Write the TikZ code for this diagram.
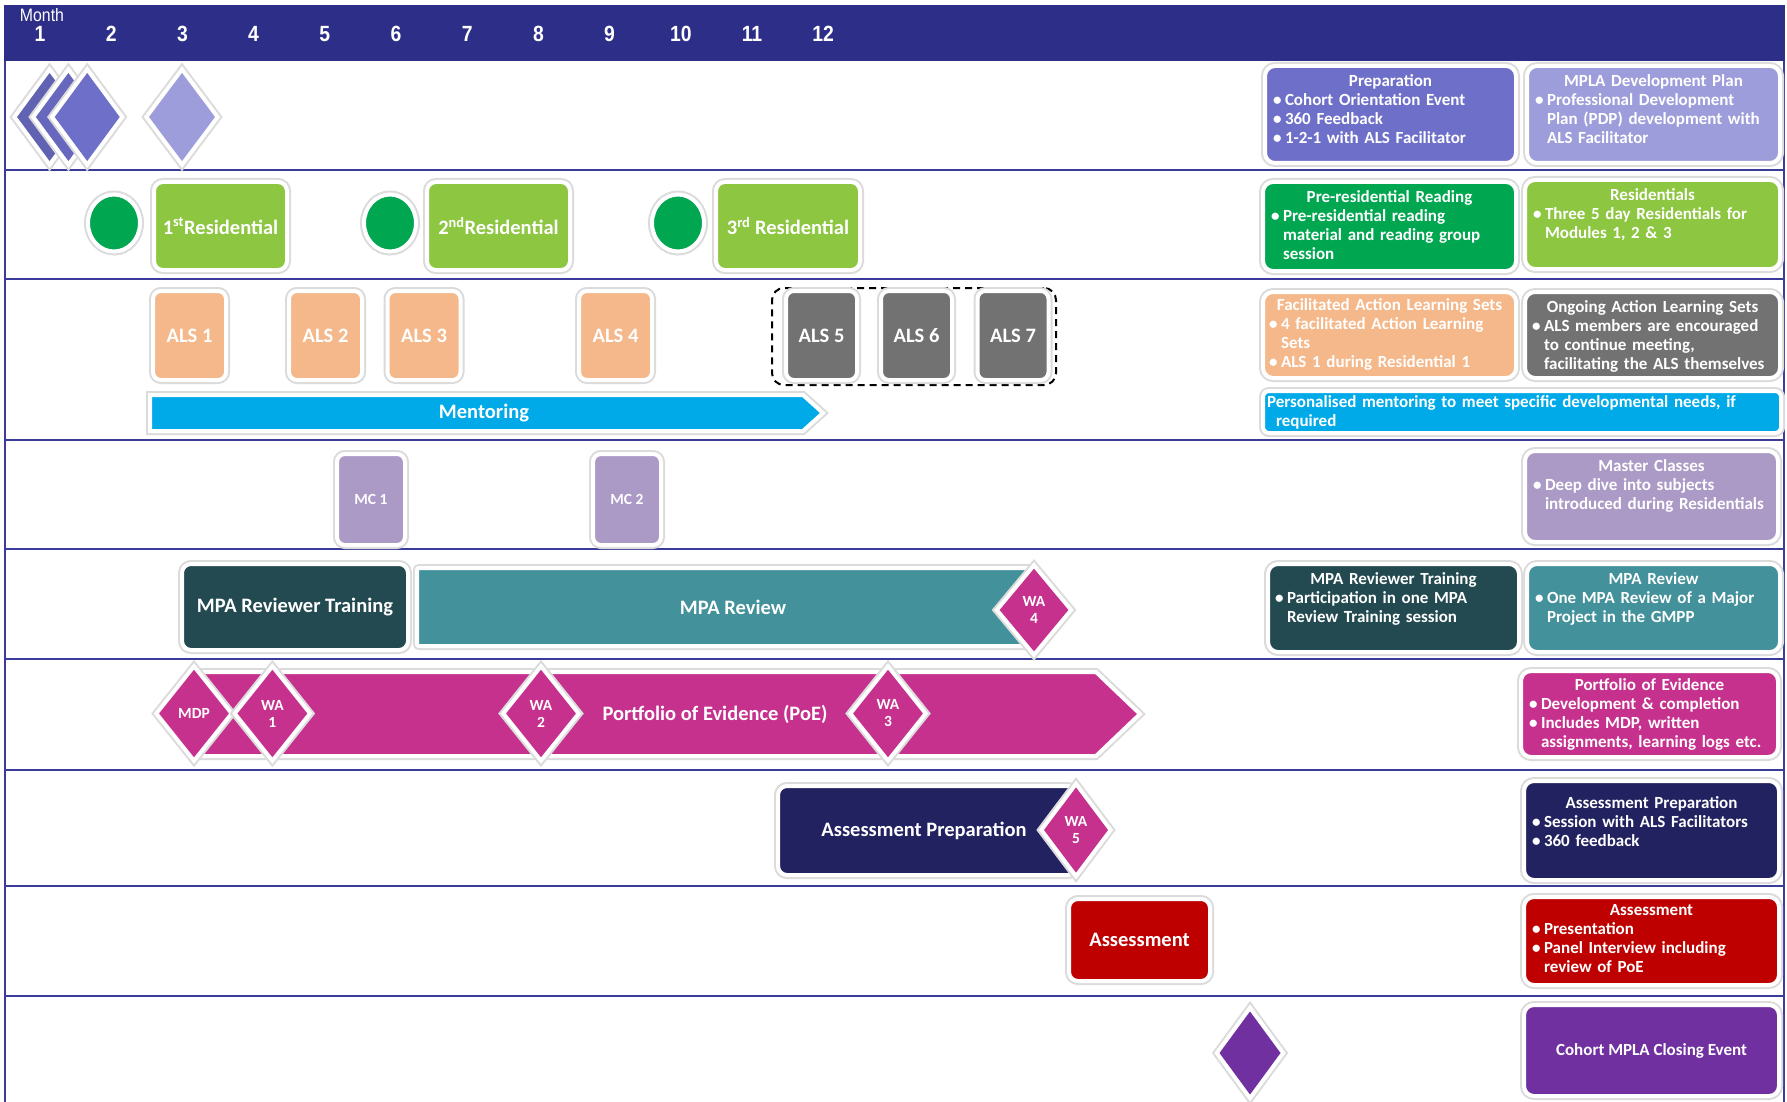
\documentclass[tikz,border=0pt]{standalone}
\usepackage{fontspec}
\setmainfont{Carlito}
\newfontfamily\narrowfont[FakeStretch=0.88]{Liberation Sans}
\usetikzlibrary{shapes.geometric}

\definecolor{hdr}{HTML}{2D2E87}
\definecolor{rowline}{HTML}{3B3B9B}
\definecolor{prep}{HTML}{6E6FC9}
\definecolor{mpla}{HTML}{9D9DDB}
\definecolor{dgreen}{HTML}{00A650}
\definecolor{lgreen}{HTML}{8DC641}
\definecolor{peach}{HTML}{F4B88A}
\definecolor{ggray}{HTML}{727272}
\definecolor{cyanb}{HTML}{00AAE8}
\definecolor{lav}{HTML}{AC9AC6}
\definecolor{dteal}{HTML}{224A50}
\definecolor{tealc}{HTML}{43919A}
\definecolor{poe}{HTML}{C6318E}
\definecolor{navyc}{HTML}{222261}
\definecolor{asred}{HTML}{BF0000}
\definecolor{purp}{HTML}{7030A0}

\newcommand{\lblfont}{\bfseries\fontsize{20.5}{22}\selectfont}
\newcommand{\smfont}{\bfseries\fontsize{15.5}{17}\selectfont}
\newcommand{\rfont}{\bfseries\fontsize{17}{19}\selectfont}
\newcommand{\bitm}[1]{\par{\leftskip=12pt\noindent\hspace*{-12pt}\makebox[12pt][l]{\textbullet}#1\par}}

\begin{document}
\begin{tikzpicture}[x=1pt,y=-1pt,
  wb/.style={preaction={draw=black!14,line width=8pt},draw=white,line width=4pt},
  lbx/.style={wb,rounded corners=9pt,inner sep=0pt,text=white,font=\lblfont},
  dia/.style={diamond,wb,inner sep=0pt,text=white,font=\smfont,align=center},
  rbx/.style={wb,rounded corners=10pt,inner sep=0pt},
  rtxt/.style={text=white,font=\rfont,inner sep=0pt,anchor=north},
  mnum/.style={text=white,font={\narrowfont\bfseries\fontsize{22}{24}\selectfont}},
  rowrule/.style={draw=rowline,line width=1.2pt}]

\useasboundingbox (0,0) rectangle (1787,1102);
\fill[white] (0,0) rectangle (1787,1102);

% header
\fill[hdr] (4,5) rectangle (1785,61);
\node[text=white,font={\narrowfont\fontsize{18}{20}\selectfont}] (mlab) at (42,15) {Month};
\foreach \i in {1,...,12} {\node[mnum] (m\i) at ({40+71.2*(\i-1)},34) {\i};}

% row rules
\foreach \yy in {170,279,440,549,659,770,886,996} {\draw[rowrule] (5,\yy) -- (1784,\yy);}
\draw[rowrule] (5,61) -- (5,1102);
\draw[rowrule] (1784,61) -- (1784,1102);

% row 1
\node[dia,fill=prep!88!black,minimum width=72pt,minimum height=97pt] (d1) at (49.6,117) {};
\node[dia,fill=prep!94!black,minimum width=72pt,minimum height=97pt] (d2) at (68.4,117) {};
\node[dia,fill=prep,minimum width=72pt,minimum height=97pt] (d3) at (87.2,117) {};
\node[dia,fill=mpla,minimum width=73pt,minimum height=97pt] (d4) at (182,117) {};

% row 2
\foreach \cx/\nm in {114/c1,390/c2,678/c3}
  {\node[ellipse,wb,fill=dgreen,minimum width=52pt,minimum height=57pt,inner sep=0pt] (\nm) at (\cx,223) {};}
\node[lbx,fill=lgreen,minimum width=133pt,minimum height=88pt] (res1) at (220.5,226) {1\textsuperscript{st}Residential};
\node[lbx,fill=lgreen,minimum width=143pt,minimum height=88pt] (res2) at (498.5,226) {2\textsuperscript{nd}Residential};
\node[lbx,fill=lgreen,minimum width=144pt,minimum height=88pt] (res3) at (788,226) {3\textsuperscript{rd} Residential};

% row 3
\node[draw=black,dash pattern=on 7pt off 5pt,line width=2pt,rounded corners=12pt,minimum width=284pt,minimum height=97pt,inner sep=0pt] (dbox) at (914,336.5) {};
\foreach \cx/\nm/\tx in {189.5/als1/ALS 1,325.5/als2/ALS 2,424/als3/ALS 3,615.5/als4/ALS 4}
  {\node[lbx,fill=peach,rounded corners=8pt,minimum width=73pt,minimum height=89pt] (\nm) at (\cx,335.5) {\tx};}
\foreach \cx/\nm/\tx in {821.5/als5/ALS 5,916.5/als6/ALS 6,1013/als7/ALS 7}
  {\node[lbx,fill=ggray,rounded corners=8pt,minimum width=71pt,minimum height=89pt] (\nm) at (\cx,335.5) {\tx};}
\draw[wb,fill=cyanb] (150,395) -- (803,395) -- (823,413) -- (803,431) -- (150,431) -- cycle;
\node[text=white,font=\lblfont] (ment) at (484,413) {Mentoring};

% row 4
\node[lbx,fill=lav,rounded corners=8pt,font=\smfont,minimum width=68pt,minimum height=91pt] (mc1) at (371,499.5) {MC 1};
\node[lbx,fill=lav,rounded corners=8pt,font=\smfont,minimum width=68pt,minimum height=91pt] (mc2) at (627,499.5) {MC 2};

% row 5
\node[lbx,fill=dteal,minimum width=226pt,minimum height=86pt] (mrt) at (295,607) {MPA Reviewer Training};
\node[wb,fill=tealc,rounded corners=2pt,minimum width=614pt,minimum height=78pt,inner sep=0pt] (mr) at (724,607) {};
\node[text=white,font=\lblfont] (mrl) at (733,607) {MPA Review};
\node[dia,fill=poe,minimum width=76pt,minimum height=91pt] (wa4) at (1034,610) {WA\\4};

% row 6
\draw[wb,fill=poe] (192,672) -- (1096,672) -- (1140,714) -- (1096,756) -- (192,756) -- cycle;
\node[text=white,font=\lblfont] (poel) at (715,714) {Portfolio of Evidence (PoE)};
\node[dia,fill=poe,minimum width=77pt,minimum height=96pt] (mdp) at (194,713.5) {MDP};
\node[dia,fill=poe,minimum width=77pt,minimum height=96pt] (wa1) at (272.4,713.5) {WA\\1};
\node[dia,fill=poe,minimum width=77pt,minimum height=96pt] (wa2) at (541,713.5) {WA\\2};
\node[dia,fill=poe,minimum width=77pt,minimum height=96pt] (wa3) at (888,713.5) {WA\\3};

% row 7
\node[lbx,fill=navyc,minimum width=299pt,minimum height=89pt] (ap) at (927.5,830.5) {};
\node[text=white,font=\lblfont] (apl) at (924,831) {Assessment Preparation};
\node[dia,fill=poe,minimum width=71pt,minimum height=94pt] (wa5) at (1076,830) {WA\\5};

% row 8
\node[lbx,fill=asred,minimum width=141pt,minimum height=82pt] (as) at (1139.5,940) {Assessment};

% row 9
\node[dia,fill=purp,minimum width=68pt,minimum height=92pt] (close) at (1250,1053) {};

% right panel
\node[rbx,fill=prep,minimum width=251pt,minimum height=97pt] (rPrep) at (1390.5,114.5) {};
\node[rtxt,text width=235pt] (rPrepT) at ([yshift=-10.5pt]rPrep.north)
 {\raggedright{\centering Preparation\par}\bitm{Cohort Orientation Event}\bitm{360 Feedback}\bitm{1-2-1 with ALS Facilitator}};

\node[rbx,fill=mpla,minimum width=253pt,minimum height=97pt] (rMpla) at (1653.5,114.5) {};
\node[rtxt,text width=237pt] (rMplaT) at ([yshift=-10.5pt]rMpla.north)
 {\raggedright{\centering MPLA Development Plan\par}\bitm{Professional Development\newline Plan (PDP) development with\newline ALS Facilitator}};

\node[rbx,fill=dgreen,minimum width=253pt,minimum height=89pt] (rPre) at (1389.5,226.5) {};
\node[rtxt,text width=237pt] (rPreT) at ([yshift=-10pt]rPre.north)
 {\raggedright{\centering Pre-residential Reading\par}\bitm{Pre-residential reading\newline material and reading group\newline session}};

\node[rbx,fill=lgreen,minimum width=255pt,minimum height=89pt] (rRes) at (1652.5,224.5) {};
\node[rtxt,text width=239pt] (rResT) at ([yshift=-10pt]rRes.north)
 {\raggedright{\centering Residentials\par}\bitm{Three 5 day Residentials for\newline Modules 1, 2 \& 3}};

\node[rbx,fill=peach,minimum width=253pt,minimum height=86pt] (rFals) at (1389.5,335) {};
\node[rtxt,text width=241pt] (rFalsT) at ([yshift=-8.5pt]rFals.north)
 {\raggedright{\centering Facilitated Action Learning Sets\par}\bitm{4 facilitated Action Learning\newline Sets}\bitm{ALS 1 during Residential 1}};

\node[rbx,fill=ggray,minimum width=255pt,minimum height=86pt] (rOals) at (1652.5,335) {};
\node[rtxt,text width=241pt] (rOalsT) at ([yshift=-10.5pt]rOals.north)
 {\raggedright{\centering Ongoing Action Learning Sets\par}\bitm{ALS members are encouraged\newline to continue meeting,\newline facilitating the ALS themselves}};

\node[rbx,fill=cyanb,rounded corners=6pt,minimum width=518pt,minimum height=42pt] (rMent) at (1522,412) {};
\node[text=white,font=\rfont,inner sep=0pt,text width=510pt,align=left] (rMentT) at (rMent.center)
 {Personalised mentoring to meet specific developmental needs, if\\\hspace*{9pt}required};

\node[rbx,fill=lav,minimum width=253pt,minimum height=91pt] (rMc) at (1651.5,496.5) {};
\node[rtxt,text width=237pt] (rMcT) at ([yshift=-10.5pt]rMc.north)
 {\raggedright{\centering Master Classes\par}\bitm{Deep dive into subjects\newline introduced during Residentials}};

\node[rbx,fill=dteal,minimum width=251pt,minimum height=88pt] (rMrt) at (1393.5,608) {};
\node[rtxt,text width=237pt] (rMrtT) at ([yshift=-10.5pt]rMrt.north)
 {\raggedright{\centering MPA Reviewer Training\par}\bitm{Participation in one MPA\newline Review Training session}};

\node[rbx,fill=tealc,minimum width=253pt,minimum height=88pt] (rMr) at (1653.5,608) {};
\node[rtxt,text width=237pt] (rMrT) at ([yshift=-10.5pt]rMr.north)
 {\raggedright{\centering MPA Review\par}\bitm{One MPA Review of a Major\newline Project in the GMPP}};

\node[rbx,fill=poe,minimum width=257pt,minimum height=86pt] (rPoe) at (1649.5,714) {};
\node[rtxt,text width=241pt] (rPoeT) at ([yshift=-9pt]rPoe.north)
 {\raggedright{\centering Portfolio of Evidence\par}\bitm{Development \& completion}\bitm{Includes MDP, written\newline assignments, learning logs etc.}};

\node[rbx,fill=navyc,minimum width=255pt,minimum height=99pt] (rAp) at (1651.5,830.5) {};
\node[rtxt,text width=239pt] (rApT) at ([yshift=-17.5pt]rAp.north)
 {\raggedright{\centering Assessment Preparation\par}\bitm{Session with ALS Facilitators}\bitm{360 feedback}};

\node[rbx,fill=asred,minimum width=255pt,minimum height=88pt] (rAs) at (1651.5,941) {};
\node[rtxt,text width=239pt] (rAsT) at ([yshift=-9.5pt]rAs.north)
 {\raggedright{\centering Assessment\par}\bitm{Presentation}\bitm{Panel Interview including\newline review of PoE}};

\node[rbx,fill=purp,minimum width=255pt,minimum height=91pt] (rCl) at (1651.5,1050.5) {};
\node[text=white,font=\rfont,inner sep=0pt] (rClT) at (rCl.center) {Cohort MPLA Closing Event};

\end{tikzpicture}
\end{document}
